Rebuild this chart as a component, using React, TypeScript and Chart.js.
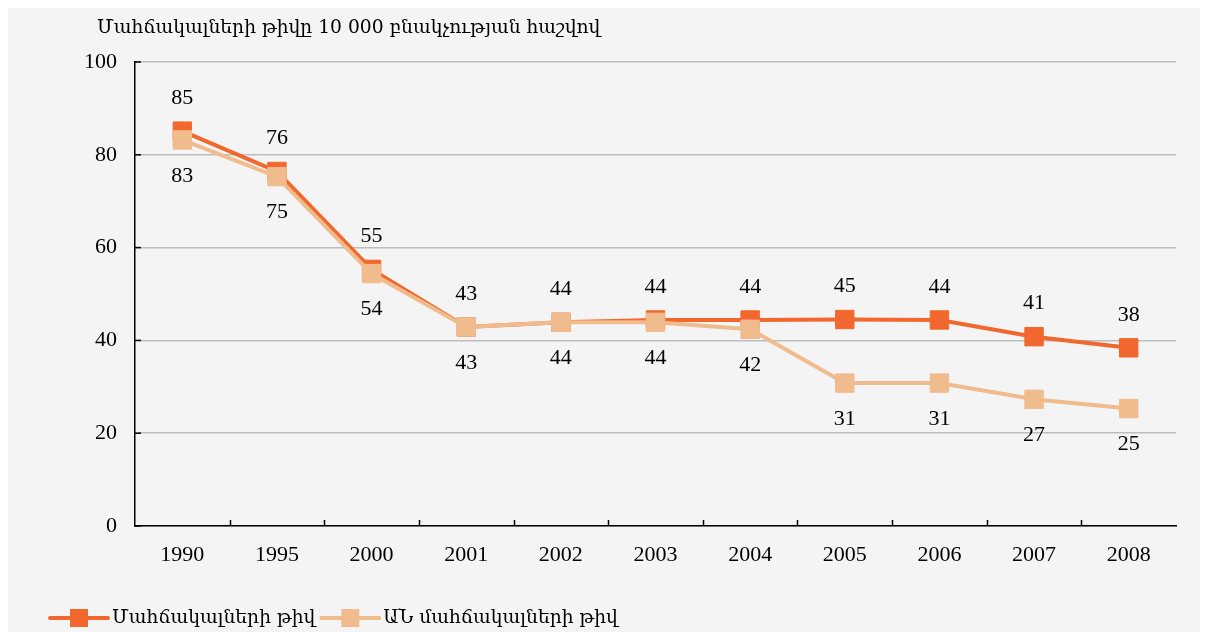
import { useEffect, useRef } from "react";
import { Chart, registerables } from "chart.js";

Chart.register(...registerables);

const categories = ["1990", "1995", "2000", "2001", "2002", "2003", "2004", "2005", "2006", "2007", "2008"];
const bedsAll = [85.1, 76.4, 55.3, 42.9, 43.9, 44.4, 44.4, 44.5, 44.4, 40.8, 38.4];
const bedsMoH = [83.2, 75.3, 54.4, 42.9, 43.9, 43.9, 42.4, 30.8, 30.8, 27.3, 25.3];
const yMin = 0;
const yMax = 100;
const yStep = 20;
const titleText = "Մահճակալների թիվը 10 000 բնակչության հաշվով";
const seriesNames = ["Մահճակալների թիվ", "ԱՆ մահճակալների թիվ"];

const FONT = '"Liberation Serif", "DejaVu Serif", serif';
const ARM_FONT = '"DejaVu Serif", "Liberation Serif", serif';
const C1 = "#F2672D";
const C2 = "#F0BB8D";
const BG = "#F4F4F4";

const customPlugin = {
  id: "custom",
  beforeDraw(chart: any) {
    const { ctx, width, height } = chart;
    ctx.save();
    ctx.fillStyle = BG;
    ctx.fillRect(0, 0, width, height);
    ctx.fillStyle = "#000";
    ctx.font = `18.7px ${ARM_FONT}`;
    ctx.textAlign = "left";
    ctx.textBaseline = "middle";
    ctx.fillText(titleText, 89, 20);
    ctx.restore();
  },
  afterDraw(chart: any) {
    const { ctx, chartArea } = chart;
    const ys = chart.scales.y;
    ctx.save();
    ctx.strokeStyle = "#000";
    ctx.lineWidth = 1.5;
    // x tick marks (inside, between categories)
    const n = categories.length;
    const w = (chartArea.right - chartArea.left) / n;
    for (let i = 1; i < n; i++) {
      const x = Math.round(chartArea.left + w * i) + 0.5;
      ctx.beginPath();
      ctx.moveTo(x, chartArea.bottom);
      ctx.lineTo(x, chartArea.bottom - 6);
      ctx.stroke();
    }
    // y tick marks (inside)
    ys.ticks.forEach((t: any) => {
      const y = ys.getPixelForValue(t.value);
      ctx.beginPath();
      ctx.moveTo(chartArea.left, y);
      ctx.lineTo(chartArea.left + 6, y);
      ctx.stroke();
    });
    // data labels
    ctx.fillStyle = "#000";
    ctx.font = `22px ${FONT}`;
    ctx.textAlign = "center";
    ctx.textBaseline = "middle";
    chart.data.datasets.forEach((ds: any, di: number) => {
      const meta = chart.getDatasetMeta(di);
      meta.data.forEach((pt: any, i: number) => {
        const v = Math.round(ds.data[i]);
        const dy = di === 0 ? -33 : 36;
        ctx.fillText(String(v), pt.x, pt.y + dy);
      });
    });
    // legend
    const colors = [C1, C2];
    let x0 = 42;
    const ly = 610;
    ctx.font = `18.7px ${ARM_FONT}`;
    ctx.textAlign = "left";
    seriesNames.forEach((name, i) => {
      ctx.strokeStyle = colors[i];
      ctx.lineWidth = 4;
      ctx.lineCap = "round";
      ctx.beginPath();
      ctx.moveTo(x0, ly);
      ctx.lineTo(x0 + 58, ly);
      ctx.stroke();
      ctx.fillStyle = colors[i];
      ctx.fillRect(x0 + 29 - 9, ly - 9, 18, 18);
      ctx.fillStyle = "#000";
      ctx.fillText(name, x0 + 62, ly);
      x0 = x0 + 62 + ctx.measureText(name).width + 6;
    });
    ctx.restore();
  },
};

export default function App() {
  const ref = useRef<HTMLCanvasElement | null>(null);
  useEffect(() => {
    document.documentElement.style.overflow = "hidden";
    const canvas = ref.current;
    if (!canvas) return;
    const chart = new Chart(canvas, {
      type: "line",
      data: {
        labels: categories,
        datasets: [
          {
            label: seriesNames[0],
            data: bedsAll,
            borderColor: C1,
            backgroundColor: C1,
            borderWidth: 4,
            pointStyle: "rect",
            pointRadius: 13,
            pointBorderWidth: 1,
            pointBorderColor: C1,
            pointBackgroundColor: C1,
            order: 1,
          },
          {
            label: seriesNames[1],
            data: bedsMoH,
            borderColor: C2,
            backgroundColor: C2,
            borderWidth: 4,
            pointStyle: "rect",
            pointRadius: 13,
            pointBorderWidth: 1,
            pointBorderColor: C2,
            pointBackgroundColor: C2,
            order: 0,
          },
        ],
      },
      options: {
        animation: false,
        responsive: false,
        devicePixelRatio: 1,
        layout: { padding: { left: 0, top: 54, right: 32, bottom: 0 } },
        plugins: {
          legend: { display: false },
          title: { display: false },
          tooltip: { enabled: false },
        },
        scales: {
          x: {
            type: "category",
            offset: true,
            grid: { drawOnChartArea: false, drawTicks: false, offset: true },
            border: { display: true, color: "#000", width: 1.5 },
            ticks: {
              color: "#000",
              font: { family: FONT, size: 22 },
              padding: 16,
              maxRotation: 0,
              autoSkip: false,
            },
            afterFit: (s: any) => {
              s.height = 106;
            },
          },
          y: {
            min: yMin,
            max: yMax,
            ticks: {
              stepSize: yStep,
              color: "#000",
              font: { family: FONT, size: 22 },
              padding: 18,
            },
            grid: { color: "#BDBDBD", lineWidth: 1.5, drawTicks: false },
            border: { display: true, color: "#000", width: 1.5 },
            afterFit: (s: any) => {
              s.width = 127;
            },
          },
        },
      },
      plugins: [customPlugin],
    } as any);
    return () => chart.destroy();
  }, []);
  return (
    <div style={{ width: 1200, height: 624 }}>
      <canvas ref={ref} width={1200} height={624} style={{ display: "block" }} />
    </div>
  );
}
